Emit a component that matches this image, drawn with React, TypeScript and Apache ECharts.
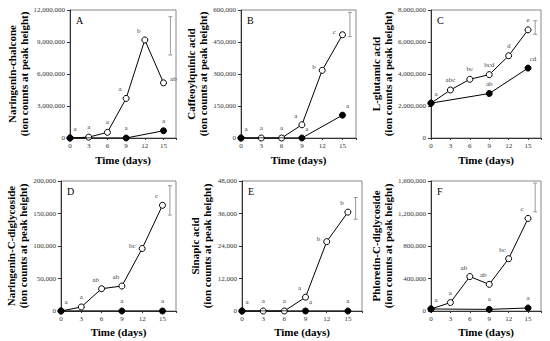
import React, { useEffect, useRef } from "react";
import * as echarts from "echarts";

// ---- Data ----
const days = [0, 3, 6, 9, 12, 15];
const controlDays = [0, 9, 15];
const xTicks = [0, 3, 6, 9, 12, 15];

const compoundNames = [
  "Naringenin-chalcone",
  "Caffeoylquinic acid",
  "L-glutamic acid",
  "Naringenin-C-diglycoside",
  "Sinapic acid",
  "Phloretin-C-diglycoside",
];
const panelLetters = ["A", "B", "C", "D", "E", "F"];

// open circles (treated)
const openA = [0, 80000, 530000, 3710000, 9190000, 5170000];
const openB = [0, 0, 0, 62000, 317000, 484000];
const openC = [2180000, 3000000, 3670000, 3960000, 5140000, 6760000];
const openD = [0, 6200, 34300, 38400, 96100, 162600];
const openE = [0, 0, 0, 5100, 25600, 36500];
const openF = [25000, 104000, 424000, 328000, 644000, 1139000];

// filled circles (control)
const filledA = [0, 0, 680000];
const filledB = [0, 0, 107000];
const filledC = [2180000, 2780000, 4370000];
const filledD = [0, 0, 0];
const filledE = [0, 0, 0];
const filledF = [25000, 20000, 37000];

// significance letters
const openLetA = ["a", "a", "a", "a", "b", "ab"];
const openLetB = ["a", "a", "a", "a", "b", "c"];
const openLetC = ["a", "abc", "bc", "bcd", "d", "e"];
const openLetD = ["a", "a", "ab", "ab", "bc", "c"];
const openLetE = ["a", "a", "a", "a", "b", "b"];
const openLetF = ["a", "a", "ab", "ab", "bc", "c"];
const filledLetA = ["", "a", "a"];
const filledLetB = ["", "a", "a"];
const filledLetC = ["", "ab", "cd"];
const filledLetD = ["", "a", "a"];
const filledLetE = ["", "a", "a"];
const filledLetF = ["", "a", "a"];

// LSD bars: [x, low, high]
const lsdA = [16.1, 7780000, 11370000];
const lsdB = [16.1, 475000, 589000];
const lsdC = [16.1, 6480000, 7330000];
const lsdD = [16.1, 147600, 192800];
const lsdE = [16.1, 33900, 41900];
const lsdF = [16.1, 1221000, 1575000];

// y axis scales
const yMax = [12000000, 600000, 8000000, 200000, 48000, 1600000];
const yInterval = [3000000, 150000, 2000000, 50000, 12000, 400000];

// ---- Layout (styles, not data) ----
const grids = [
  { left: 70, top: 10, width: 106, height: 128 },
  { left: 241, top: 10, width: 115, height: 128 },
  { left: 431, top: 10, width: 110, height: 128 },
  { left: 61, top: 181, width: 115, height: 130 },
  { left: 242, top: 181, width: 120, height: 130 },
  { left: 431, top: 181, width: 110, height: 130 },
];
const nameGaps = [40, 32, 37, 32, 29, 36];
const openPos = [
  ["TR", "T", "T", "TL", "TL", "R"],
  ["TR", "T", "T", "TL", "L", "L"],
  ["TR", "T", "T", "T", "T", "T"],
  ["TR", "T", "TL", "TL", "L", "TL"],
  ["TR", "T", "T", "TL", "L", "TL"],
  ["TR", "T", "TL", "TL", "TL", "TL"],
];
const filledPos = [
  ["", "T", "T"],
  ["", "TR", "TR"],
  ["", "T", "TR"],
  ["", "T", "T"],
  ["", "TR", "T"],
  ["", "T", "T"],
];

const FONT = "'Liberation Serif', 'Times New Roman', serif";
const LABEL_COLOR = "#444";

function labelFor(text: string, code: string) {
  const base: any = {
    show: !!text,
    formatter: text,
    fontFamily: FONT,
    fontSize: 7,
    color: LABEL_COLOR,
  };
  switch (code) {
    case "T":
      return { ...base, position: "top", distance: 3 };
    case "TR":
      return { ...base, position: "top", distance: 2, offset: [5, 0] };
    case "TL":
      return { ...base, position: "top", distance: 2, offset: [-6, 0] };
    case "L":
      return { ...base, position: "left", distance: 3, offset: [0, -3] };
    case "R":
      return { ...base, position: "right", distance: 3, offset: [0, -4] };
    default:
      return { ...base, show: false };
  }
}

export default function App() {
  const ref = useRef<HTMLDivElement>(null);

  useEffect(() => {
    if (!ref.current) return;
    const chart = echarts.init(ref.current, undefined, { renderer: "svg" });

    const opens = [openA, openB, openC, openD, openE, openF];
    const filleds = [filledA, filledB, filledC, filledD, filledE, filledF];
    const openLets = [openLetA, openLetB, openLetC, openLetD, openLetE, openLetF];
    const filledLets = [filledLetA, filledLetB, filledLetC, filledLetD, filledLetE, filledLetF];
    const lsds = [lsdA, lsdB, lsdC, lsdD, lsdE, lsdF];

    const grid = grids.map((g) => ({
      ...g,
      show: true,
      borderColor: "#888",
      borderWidth: 1,
      backgroundColor: "transparent",
      containLabel: false,
    }));

    const xAxis = grids.map((_, i) => ({
      type: "value",
      gridIndex: i,
      min: 0,
      max: 17,
      interval: 3,
      name: "Time (days)",
      nameLocation: "middle",
      nameGap: i < 3 ? 16 : 15,
      nameTextStyle: {
        fontFamily: FONT,
        fontWeight: "bold",
        fontSize: 11,
        color: "#000",
      },
      axisLine: { show: true, onZero: false, lineStyle: { color: "#333", width: 1 } },
      axisTick: { show: true, length: 2, lineStyle: { color: "#333" } },
      splitLine: { show: false },
      axisLabel: {
        fontFamily: FONT,
        fontSize: 7,
        color: "#333",
        margin: 4,
        formatter: (v: number) => (xTicks.includes(v) ? String(v) : ""),
      },
    }));

    const yAxis = grids.map((_, i) => ({
      type: "value",
      gridIndex: i,
      min: 0,
      max: yMax[i],
      interval: yInterval[i],
      name: compoundNames[i] + "\n(ion counts at peak height)",
      nameLocation: "middle",
      nameRotate: 90,
      nameGap: nameGaps[i],
      nameTextStyle: {
        fontFamily: FONT,
        fontWeight: "bold",
        fontSize: 11,
        lineHeight: 12,
        color: "#000",
        align: "center",
      },
      axisLine: { show: true, lineStyle: { color: "#333", width: 1 } },
      axisTick: { show: true, length: 3, lineStyle: { color: "#333" } },
      splitLine: { show: false },
      axisLabel: {
        fontFamily: FONT,
        fontSize: 7,
        color: "#333",
        margin: 5,
        formatter: (v: number) => v.toLocaleString("en-US"),
      },
    }));

    const series: any[] = [];
    grids.forEach((_, i) => {
      series.push({
        type: "line",
        xAxisIndex: i,
        yAxisIndex: i,
        color: "#000",
        symbol: "circle",
        symbolSize: 6,
        lineStyle: { color: "#000", width: 1 },
        itemStyle: { color: "#fff", borderColor: "#000", borderWidth: 1 },
        label: { color: LABEL_COLOR, fontFamily: FONT, fontSize: 7 },
        z: 3,
        data: days.map((d, j) => ({
          value: [d, opens[i][j]],
          label: labelFor(openLets[i][j], openPos[i][j]),
        })),
      });
      series.push({
        type: "line",
        xAxisIndex: i,
        yAxisIndex: i,
        color: "#000",
        symbol: "circle",
        symbolSize: 6,
        lineStyle: { color: "#000", width: 1 },
        itemStyle: { color: "#000", borderColor: "#000", borderWidth: 1 },
        label: { color: LABEL_COLOR, fontFamily: FONT, fontSize: 7 },
        z: 4,
        data: controlDays.map((d, j) => ({
          value: [d, filleds[i][j]],
          label: labelFor(filledLets[i][j], filledPos[i][j]),
        })),
      });
      series.push({
        type: "custom",
        xAxisIndex: i,
        yAxisIndex: i,
        encode: { x: 0, y: [1, 2] },
        data: [lsds[i]],
        z: 2,
        renderItem: (params: any, api: any) => {
          const x = api.value(0);
          const p1 = api.coord([x, api.value(1)]);
          const p2 = api.coord([x, api.value(2)]);
          const cap = 2;
          const style = { stroke: "#999", lineWidth: 1 };
          return {
            type: "group",
            children: [
              { type: "line", shape: { x1: p1[0], y1: p1[1], x2: p2[0], y2: p2[1] }, style },
              { type: "line", shape: { x1: p1[0] - cap, y1: p1[1], x2: p1[0] + cap, y2: p1[1] }, style },
              { type: "line", shape: { x1: p2[0] - cap, y1: p2[1], x2: p2[0] + cap, y2: p2[1] }, style },
            ],
          };
        },
      });
    });

    const graphic = grids.map((g, i) => ({
      type: "text",
      left: g.left + 6,
      top: g.top + 5,
      style: {
        text: panelLetters[i],
        fontFamily: FONT,
        fontSize: 10,
        fill: "#000",
      },
    }));

    chart.setOption({
      animation: false,
      backgroundColor: "#fff",
      color: ["#444"],
      textStyle: { fontFamily: FONT, color: "#333" },
      grid,
      xAxis,
      yAxis,
      series,
      graphic,
    });

    return () => chart.dispose();
  }, []);

  return (
    <div
      ref={ref}
      style={{ position: "fixed", left: 0, top: 0, width: 550, height: 341 }}
    />
  );
}
